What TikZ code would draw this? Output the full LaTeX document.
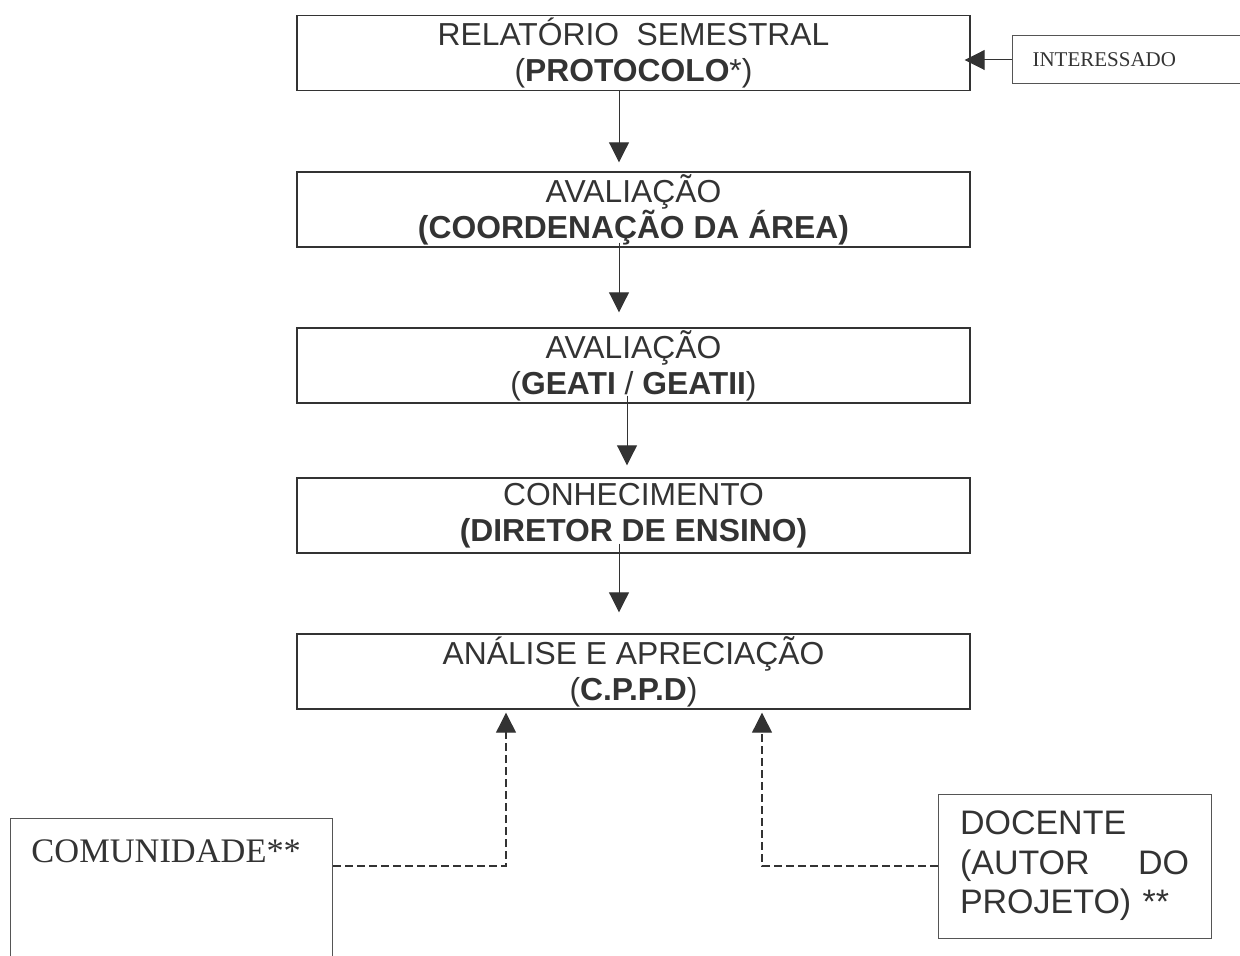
\documentclass[tikz,border=0pt]{standalone}
\usepackage{fontspec}
\setmainfont{Liberation Sans}
\newfontfamily\timesfont{Liberation Serif}
\usetikzlibrary{arrows.meta}
\definecolor{ink}{HTML}{333333}
\definecolor{inkb}{HTML}{555555}
\tikzset{
	etapa/.style={draw=ink, line width=0.7pt, minimum width=336.5pt, minimum height=37.5pt,
		inner sep=0pt, align=center, text=ink, font=\fontsize{15.9}{18}\selectfont},
	caixa/.style={draw=inkb, line width=0.5pt, text=ink},
	seta/.style={draw=ink, line width=0.5pt, -{Triangle[length=10pt,width=10pt]}},
	tracejada/.style={seta, line width=0.6pt, dash pattern=on 4pt off 2pt}
}

\begin{document}
\begin{tikzpicture}[x=0.5pt,y=-0.5pt]
	\clip (0,0) rectangle (1240,956);
	% fluxo principal
	\node[etapa] (rel) at (633.5,53) {RELATÓRIO\ \ SEMESTRAL\\(\textbf{PROTOCOLO}*)};
	\node[etapa] (coord) at (633.5,209.5) {AVALIAÇÃO\\\textbf{(COORDENAÇÃO DA ÁREA)}};
	\node[etapa] (geat) at (633.5,365.5) {AVALIAÇÃO\\(\textbf{GEATI} / \textbf{GEATII})};
	\node[etapa] (dir) at (633.5,515.5) {CONHECIMENTO\\\textbf{(DIRETOR DE ENSINO)}};
	\node[etapa] (cppd) at (633.5,671.5) {ANÁLISE E APRECIAÇÃO\\(\textbf{C.P.P.D})};

	\node[caixa, anchor=west, minimum height=24pt, text width=130pt, inner xsep=10pt, align=left,
		font=\timesfont\fontsize{10.5}{12}\selectfont] (int) at (1012,60) {INTERESSADO};
	\node[caixa, anchor=north west, text width=140pt, inner xsep=10.5pt, inner ysep=10.5pt,
		text depth=80pt, align=left, font=\timesfont\fontsize{17.2}{19}\selectfont] (com) at (10,818) {COMUNIDADE**};
	\node[caixa, text width=114.5pt, inner xsep=11pt, minimum height=72pt, align=left,
		font=\fontsize{17}{19.75}\selectfont] (doc) at (1074.5,866) {DOCENTE\\(AUTOR\hfill DO\\PROJETO) **};

	\draw[seta, shorten >=-3pt] (int.west) -- (int.west -| rel.east);
	\draw[seta, shorten >=4.5pt] ([xshift=-7.25pt]rel.south) -- ([xshift=-7.25pt]coord.north);
	\draw[seta, shorten >=7.5pt] ([xshift=-7.25pt,yshift=2.5pt]coord.south) -- ([xshift=-7.25pt]geat.north);
	\draw[seta, shorten >=6pt] ([xshift=-3.25pt,yshift=4pt]geat.south) -- ([xshift=-3.25pt]dir.north);
	\draw[seta, shorten >=10.5pt] ([xshift=-7.25pt,yshift=5pt]dir.south) -- ([xshift=-7.25pt]cppd.north);

	\draw[tracejada, shorten >=1.5pt] ([yshift=-24pt]com.north east) -| ([xshift=-63.75pt]cppd.south);
	\draw[tracejada, shorten >=1.5pt] (doc.west) -| ([xshift=64.25pt]cppd.south);
	%\draw[help lines] (0,0) grid[step=100] (1240,956);
\end{tikzpicture}
\end{document}
